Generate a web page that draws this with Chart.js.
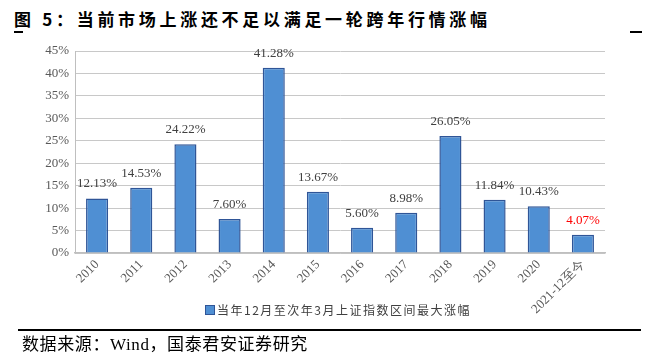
<!DOCTYPE html>
<html><head><meta charset="utf-8">
<script src="https://cdn.jsdelivr.net/npm/chart.js@4/dist/chart.umd.min.js"></script>
<style>
html,body{margin:0;padding:0;background:#fff;}
#wrap{position:relative;width:659px;height:356px;overflow:hidden;}
#title{position:absolute;left:14px;top:6px;font-family:"Noto Sans CJK SC";font-weight:bold;font-size:17px;letter-spacing:3.7px;color:#000;white-space:nowrap;}
.tick{position:absolute;top:31px;height:2px;background:#000;}
#src{position:absolute;left:22px;top:330px;font-family:"Liberation Serif","Noto Sans CJK SC";font-size:17px;letter-spacing:0.6px;color:#000;white-space:nowrap;}
#rule{position:absolute;left:18px;width:623px;top:329px;height:2px;background:#000;}
#legend{position:absolute;left:205px;top:301px;font-family:"Noto Sans CJK SC";font-size:12px;color:#404040;letter-spacing:1.5px;white-space:nowrap;}
#legend span.box{display:inline-block;width:8px;height:8px;background:#4f8fd3;border:1px solid #2f5597;margin-right:2px;vertical-align:0px;}
canvas{position:absolute;left:0;top:0;}
</style></head>
<body><div id="wrap">
<div id="title">图 5：当前市场上涨还不足以满足一轮跨年行情涨幅</div>
<div class="tick" style="left:14px;width:9px"></div>
<div class="tick" style="left:630px;width:12px"></div>
<canvas id="c" width="659" height="356"></canvas>
<div id="legend"><span class="box"></span>当年12月至次年3月上证指数区间最大涨幅</div>
<div id="rule"></div>
<div id="src">数据来源：Wind，国泰君安证券研究</div>
</div>
<script>
const categories = ["2010","2011","2012","2013","2014","2015","2016","2017","2018","2019","2020","2021-12至今"];
const values = [12.13,14.53,24.22,7.60,41.28,13.67,5.60,8.98,26.05,11.84,10.43,4.07];
const labelColors = ["#404040","#404040","#404040","#404040","#404040","#404040","#404040","#404040","#404040","#404040","#404040","#ff0000"];
const seriesName = "当年12月至次年3月上证指数区间最大涨幅";

const valueLabels = {
  id:'valueLabels',
  afterDatasetsDraw(chart){
    const ctx = chart.ctx;
    const meta = chart.getDatasetMeta(0);
    ctx.save();
    ctx.font = '13px "Liberation Serif"';
    ctx.textAlign = 'center';
    ctx.textBaseline = 'bottom';
    meta.data.forEach((bar,i)=>{
      ctx.fillStyle = labelColors[i];
      ctx.fillText(values[i].toFixed(2)+'%', bar.x, bar.y-8);
    });
    ctx.restore();
  }
};

new Chart(document.getElementById('c'),{
  type:'bar',
  data:{labels:categories,datasets:[{label:seriesName,data:values,backgroundColor:'#4f8fd3',borderColor:'#2f5597',borderWidth:1.5,barPercentage:0.5,categoryPercentage:1.0}]},
  options:{
    responsive:false,animation:false,
    layout:{padding:{left:0,right:54,top:51,bottom:0}},
    plugins:{legend:{display:false},tooltip:{enabled:false}},
    scales:{
      y:{min:0,max:45,
        ticks:{stepSize:5,callback:v=>v+'%',color:'#595959',font:{family:'Liberation Serif',size:13},padding:6},
        grid:{color:'#c8c8c8',borderDash:[2,2],drawTicks:false,lineWidth:1},
        border:{color:'#bfbfbf',dash:[]},
        afterFit:s=>{s.width=75;}
      },
      x:{
        ticks:{color:'#595959',font:{family:'Liberation Serif',size:13},maxRotation:45,minRotation:45,padding:4},
        grid:{display:false,drawTicks:false},
        border:{color:'#bfbfbf',width:1.5},
        afterFit:s=>{s.height=103;}
      }
    }
  },
  plugins:[valueLabels]
});
</script>
</body></html>
